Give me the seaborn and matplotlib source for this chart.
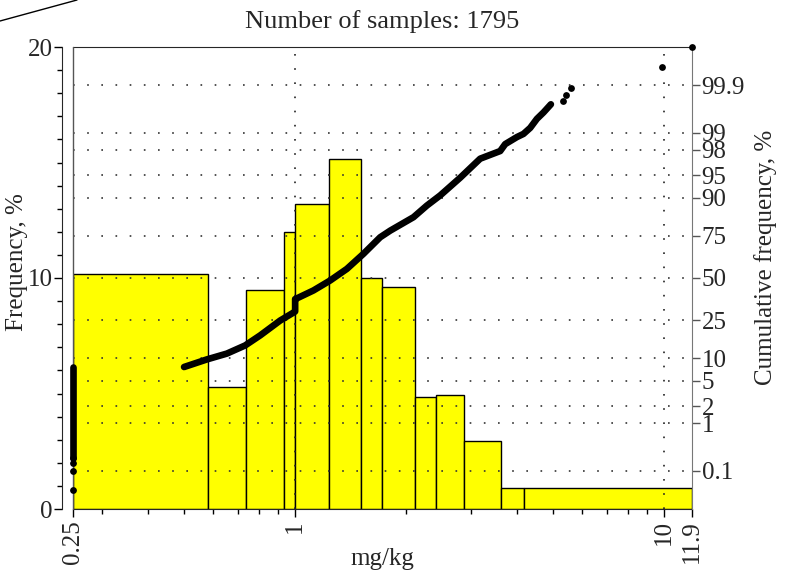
import numpy as np
import matplotlib
matplotlib.use("Agg")
import matplotlib.pyplot as plt
import seaborn as sns
from matplotlib.ticker import LogLocator, MultipleLocator, NullFormatter, NullLocator
from matplotlib.lines import Line2D
from statistics import NormalDist

# histogram: bin edges in mg/kg and frequency in %
bin_edges = [0.25, 0.58, 0.736, 0.934, 1.0, 1.239, 1.509, 1.718, 2.111, 2.406, 2.872, 3.611, 4.183, 11.9]
freq = [10.16, 5.27, 9.49, 12.0, 13.19, 15.15, 9.99, 9.6, 4.83, 4.95, 2.94, 0.92, 0.92]
n_samples = 1795

# cumulative frequency (%)
cluster_x = [0.25, 0.25]
cluster_p = [0.2, 7.7]
cluster_dot_x = [0.25, 0.25, 0.25, 0.25]
cluster_dot_p = [0.034, 0.10, 0.155, 0.2]

curve_x = [0.500, 0.576, 0.653, 0.732, 0.804, 0.911, 0.99, 1.0, 1.0, 1.006, 1.121, 1.244, 1.381,
           1.532, 1.700, 1.810, 2.093, 2.275, 2.472, 2.802, 3.173, 3.595, 3.709, 3.990, 4.157,
           4.335, 4.521, 4.711, 4.933]
curve_p = [7.7, 9.6, 11.3, 14.0, 17.9, 24.8, 29.0, 29.6, 36.8, 37.0, 42.1, 48.4, 55.8,
           65.1, 74.3, 77.6, 83.5, 87.7, 90.7, 94.6, 97.2, 97.9, 98.4, 98.8, 98.95,
           99.19, 99.46, 99.60, 99.73]

tail_x = [5.318, 5.405, 5.591, 9.86, 11.9]
tail_p = [99.77, 99.83, 99.88, 99.964, 99.989]

cum_ticks = [0.1, 1, 2, 5, 10, 25, 50, 75, 90, 95, 98, 99, 99.9]
cum_labels = ["0.1", "1", "2", "5", "10", "25", "50", "75", "90", "95", "98", "99", "99.9"]

sns.set_style("ticks")
plt.rcParams["font.family"] = ["Liberation Serif", "DejaVu Serif"]
plt.rcParams["font.size"] = 18

nd = NormalDist()
_ppf = np.vectorize(nd.inv_cdf, otypes=[float])
_cdf = np.vectorize(nd.cdf, otypes=[float])


def prob_fwd(p):
    p = np.clip(np.asarray(p, dtype=float) / 100.0, 1e-12, 1 - 1e-12)
    return _ppf(p)


def prob_inv(z):
    return _cdf(np.asarray(z, dtype=float)) * 100.0


fig, ax = plt.subplots(figsize=(7.95, 5.85), dpi=100)
fig.subplots_adjust(left=73 / 795, right=692 / 795, bottom=1 - 509 / 585, top=1 - 47 / 585)

# bars
log_edges = np.log10(bin_edges)
mids = 10 ** ((log_edges[:-1] + log_edges[1:]) / 2)
sns.histplot(x=list(mids), weights=freq, bins=list(log_edges), log_scale=True, stat="count",
             color="#ffff00", edgecolor="black", linewidth=1, alpha=1, ax=ax)

ax.set_xlim(0.25, 11.9)
ax.set_ylim(0, 20)
ax.set_xticks([0.25, 1, 10, 11.9], labels=["0.25", "1", "10", "11.9"], rotation=90)
ax.xaxis.set_minor_locator(LogLocator(base=10, subs=np.arange(2, 10)))
ax.xaxis.set_minor_formatter(NullFormatter())
ax.set_yticks([0, 10, 20])
ax.yaxis.set_minor_locator(MultipleLocator(1))
ax.tick_params(which="major", length=6, width=1, color="black")
ax.tick_params(which="minor", length=3.5, width=1, color="black")
ax.tick_params(axis="x", pad=2)
ax.tick_params(axis="y", pad=0.5)
ax.spines["left"].set_position(("outward", 8))
ax.spines["right"].set_visible(False)
ax.set_xlabel("mg/kg")
ax.xaxis.set_label_coords(0.5, -0.085)
ax.set_ylabel("Frequency, %")
ax.yaxis.set_label_coords(-0.073, 0.535)
ax.set_title(f"Number of samples: {n_samples}", pad=14, fontsize=19)

# cumulative curve on probability scale
ax2 = ax.twinx()
ax2.set_yscale("function", functions=(prob_fwd, prob_inv))
ax2.set_ylim(nd.cdf(-3.7) * 100, nd.cdf(3.7) * 100)
ax2.set_yticks(cum_ticks, labels=cum_labels)
ax2.yaxis.set_minor_locator(NullLocator())
ax2.tick_params(axis="y", length=6, width=1, color="#555555", pad=1)
ax2.grid(axis="y", color="#333333", linestyle=(0, (1, 7.5)), linewidth=1.2)
for xv in [1, 10]:
    ax2.axvline(xv, color="#222222", linestyle=(0, (1, 7.5)), linewidth=1.2, zorder=1)
ax2.axvline(0.25, color="#555555", linewidth=1, clip_on=False, zorder=1)
for side in ["left", "top", "bottom"]:
    ax2.spines[side].set_visible(False)
ax2.spines["right"].set_color("#777777")

sns.lineplot(x=curve_x, y=curve_p, ax=ax2, sort=False, estimator=None,
             color="black", linewidth=4.8, solid_capstyle="round", zorder=5)
sns.lineplot(x=cluster_x, y=cluster_p, ax=ax2, sort=False, estimator=None,
             color="black", linewidth=4.8, solid_capstyle="round", zorder=5, clip_on=False)
sns.scatterplot(x=cluster_dot_x + tail_x, y=cluster_dot_p + tail_p, ax=ax2,
                color="black", s=24, linewidth=0, zorder=6, clip_on=False)

ax2.set_ylim(nd.cdf(-3.7) * 100, nd.cdf(3.7) * 100)
ax2.set_ylabel("Cumulative frequency, %")
ax2.yaxis.set_label_coords(1.10, 0.545)

# stray line in the top-left corner of the original
fig.add_artist(Line2D([0, 77 / 795], [1 - 21 / 585, 1], color="black", linewidth=1))

fig.savefig("out.png", dpi=100)
